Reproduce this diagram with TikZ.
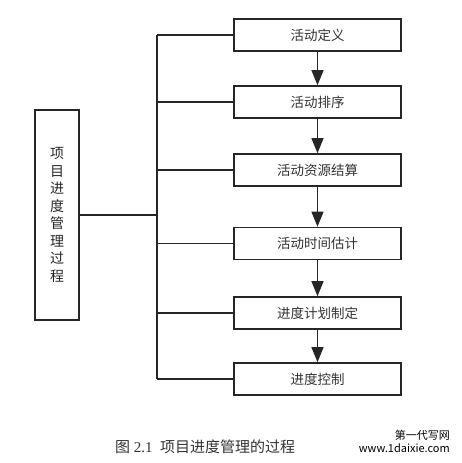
\documentclass[tikz,border=0pt]{standalone}
\usepackage{fontspec}
\setmainfont{Liberation Serif}
\newfontfamily\cjk{Noto Sans CJK SC}
\usetikzlibrary{arrows.meta}
\tikzset{
    stepbox/.style={draw=black!85, line width=1.6pt, minimum width=167pt, minimum height=32pt, inner sep=0pt, text=black!80, font=\cjk\fontsize{13.5}{15}\selectfont},
    mainbox/.style={draw=black!85, line width=1.6pt, minimum width=44pt, minimum height=210pt, inner sep=0pt, align=center, text=black!85, font=\cjk\fontsize{14}{17.5}\selectfont},
    link/.style={draw=black!85, line width=1.3pt},
    flow/.style={link, -{Triangle[length=15pt,width=12pt]}}
}
\begin{document}
\begin{tikzpicture}[x=1pt,y=1pt]
            \useasboundingbox (0,0) rectangle (461,463);
            % Defining the main box and the process boxes
            \node[mainbox] (main) at (57,248) {项\\目\\进\\度\\管\\理\\过\\程};
            \node[stepbox] (s1) at (317.5,428) {活动定义};
            \node[stepbox] (s2) at (317.5,361) {活动排序};
            \node[stepbox] (s3) at (317.5,293) {活动资源结算};
            \node[stepbox] (s4) at (317.5,219.5) {活动时间估计};
            \node[stepbox] (s5) at (317.5,150) {进度计划制定};
            \node[stepbox] (s6) at (317.5,84) {进度控制};
            % Drawing the bus from the main box
            \coordinate (bus) at (157,248);
            \draw[link] (main.east) -- (bus);
            \draw[link] (bus |- s1) -- (bus |- s6);
            \foreach \i in {1,...,6} {
                    \draw[link] (bus |- s\i) -- (s\i.west);
                }
            % Drawing the arrows between the steps
            \foreach \i/\j in {1/2,2/3,3/4,4/5,5/6} {
                    \draw[flow] (s\i.south) -- (s\j.north);
                }
            % Caption and mark
            \node[font=\fontsize{15}{17}\selectfont, text=black!80] (caption) at (205,16) {{\cjk 图} 2.1\ \ {\cjk 项目进度管理的过程}};
            \node[font=\cjk\fontsize{11}{12}\selectfont, anchor=east, inner sep=0pt] (mark) at (450,28) {第一代写网};
            \node[font=\cjk\fontsize{11}{12}\selectfont, anchor=east, inner sep=0pt] (site) at (450,15) {www.1daixie.com};
        \end{tikzpicture}
\end{document}
